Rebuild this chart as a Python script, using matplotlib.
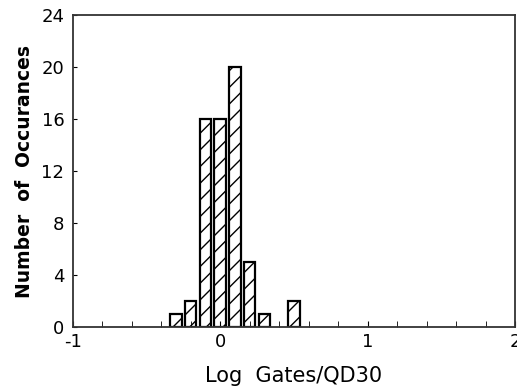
import numpy as np
import matplotlib.pyplot as plt
from matplotlib.ticker import MultipleLocator

# Histogram data
bin_centers = [-0.3, -0.2, -0.1, 0.0, 0.1, 0.2, 0.3, 0.5]
counts = [1, 2, 16, 16, 20, 5, 1, 2]

plt.rcParams['hatch.linewidth'] = 1.0

fig = plt.figure(figsize=(5.17, 3.87), dpi=100)
ax = fig.add_axes([0.1406, 0.155, 0.856, 0.806])

ax.bar(bin_centers, counts, width=0.078, facecolor='white',
       edgecolor='black', linewidth=1.6, hatch='//')

ax.set_xlim(-1, 2)
ax.set_ylim(0, 24)
ax.set_xticks([-1, 0, 1, 2])
ax.set_xticklabels(['-1', '0', '1', '2'])
ax.xaxis.set_minor_locator(MultipleLocator(0.2))
ax.set_yticks(range(0, 25, 4))

ax.tick_params(axis='x', which='both', direction='in', length=4,
               labelsize=13, pad=4)
ax.tick_params(axis='y', which='both', direction='in', length=3,
               labelsize=13, pad=6)

for s in ax.spines.values():
    s.set_linewidth(1.3)
    s.set_color('#333333')

ax.set_ylabel("Number  of  Occurances", fontsize=13.5, weight='bold',
              labelpad=5)
ax.set_xlabel("Log  Gates/QD30", fontsize=15, labelpad=11)

plt.savefig("out.png", dpi=100)
plt.close()
